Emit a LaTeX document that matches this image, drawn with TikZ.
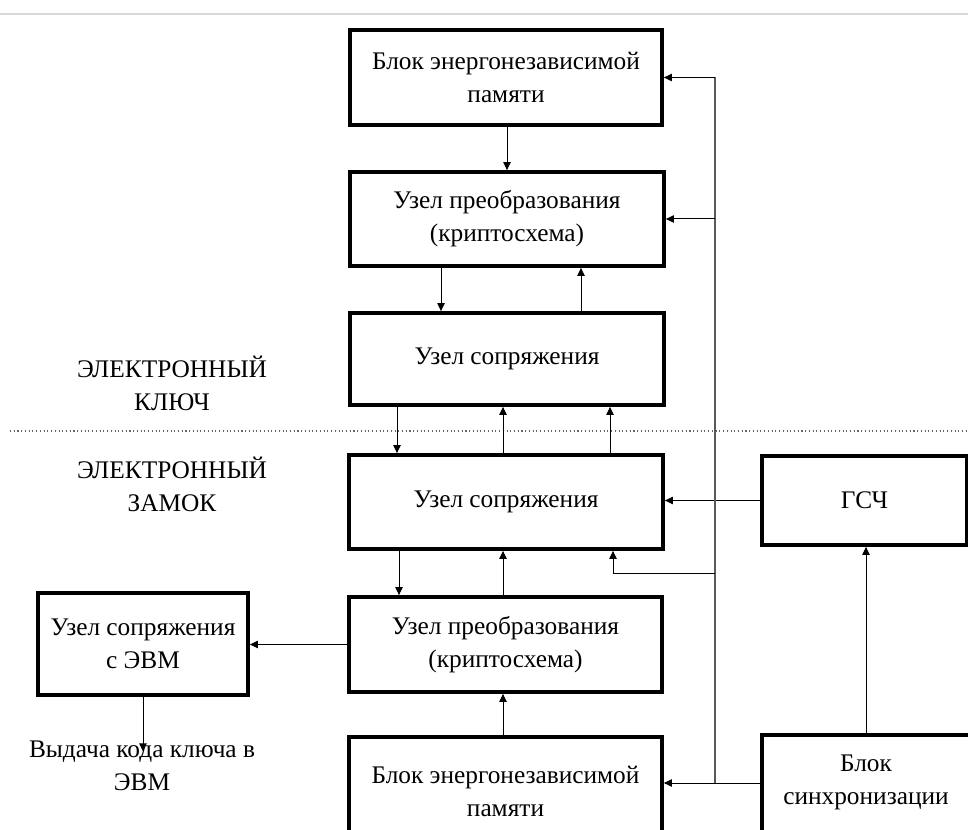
\documentclass[tikz,border=0pt]{standalone}
\usepackage{fontspec}
\setmainfont{Liberation Serif}
\usetikzlibrary{arrows.meta}

\begin{document}
\begin{tikzpicture}[x=0.75pt,y=-0.75pt,
  every node/.style={font=\fontsize{19}{24.75}\selectfont, align=center},
  blk/.style={draw, line width=2.8pt, inner sep=0pt},
  arr/.style={-{Triangle[length=6pt,width=5.5pt]}, line width=0.75pt},
  bus/.style={line width=0.9pt, draw=black!65}]
  \useasboundingbox (0,0) rectangle (968,830);
  % page edge and key / lock split
  \draw[black!15, line width=1.5pt] (0,14) -- (968,14);
  \draw[black!60, dotted, line width=0.8pt] (10,431) -- (968,431);
  % key side
  \node[blk, minimum width=234pt, minimum height=71.25pt] (memTop) at (506,77.5) {Блок энергонезависимой\\памяти};
  \node[blk, minimum width=235.5pt, minimum height=70.5pt] (convTop) at (507,219) {Узел преобразования\\(криптосхема)};
  \node[blk, minimum width=235.5pt, minimum height=69pt] (ifKey) at (507,359) {Узел сопряжения};
  \node (keyLbl) at (172,383) {ЭЛЕКТРОННЫЙ\\КЛЮЧ};
  % lock side
  \node (lockLbl) at (172,484) {ЭЛЕКТРОННЫЙ\\ЗАМОК};
  \node[blk, minimum width=235.5pt, minimum height=70.5pt] (ifLock) at (506,502) {Узел сопряжения};
  \node[blk, minimum width=234.75pt, minimum height=71.25pt] (convLock) at (505.5,644.5) {Узел преобразования\\(криптосхема)};
  \node[blk, minimum width=234.75pt, minimum height=81pt] (memLock) at (505.5,791) {Блок энергонезависимой\\памяти};
  \node[blk, minimum width=153.75pt, minimum height=66.75pt] (gsch) at (864.5,500.5) {ГСЧ};
  \node[blk, minimum width=156pt, minimum height=82.5pt, text depth=15pt] (sync) at (866,790) {Блок\\синхронизации};
  \node[blk, minimum width=157.5pt, minimum height=76.5pt] (ifPC) at (143,644) {Узел сопряжения\\с ЭВМ};
  \node[inner sep=0pt] (outTxt) at (142,766) {Выдача кода ключа в\\ЭВМ};
  % x positions of the vertical links
  \coordinate (xa) at (441,0);
  \coordinate (xb) at (581,0);
  \coordinate (xc) at (397,0);
  \coordinate (xd) at (503,0);
  \coordinate (xe) at (610,0);
  \coordinate (xf) at (399,0);
  \coordinate (xg) at (613,0);
  % links between blocks
  \draw[arr] (memTop.south -| convTop.north) -- (convTop.north);
  \draw[arr] (convTop.south -| xa) -- (ifKey.north -| xa);
  \draw[arr] (ifKey.north -| xb) -- (convTop.south -| xb);
  \draw[arr] (ifKey.south -| xc) -- (ifLock.north -| xc);
  \draw[arr] (ifLock.north -| xd) -- (ifKey.south -| xd);
  \draw[arr] (ifLock.north -| xe) -- (ifKey.south -| xe);
  \draw[arr] (ifLock.south -| xf) -- (convLock.north -| xf);
  \draw[arr] (convLock.north -| xd) -- (ifLock.south -| xd);
  \draw[arr] (memLock.north -| xd) -- (convLock.south -| xd);
  \draw[arr] (convLock.west) -- (convLock.west -| ifPC.east);
  \draw[arr] (ifPC.south) -- ([yshift=-8pt]outTxt.north -| ifPC.south);
  \draw[arr] (gsch.west) -- (gsch.west -| ifLock.east);
  \draw[arr] (sync.north) -- (sync.north |- gsch.south);
  % sync bus
  \coordinate (busTop) at (715,77.5);
  \coordinate (busBr) at (715,573);
  \coordinate (busBot) at (715,783);
  \draw[bus] (busBot) -- (busTop);
  \draw[arr] (busTop) -- (memTop.east);
  \draw[arr] (busTop |- convTop.east) -- (convTop.east);
  \draw[arr] (busBr) -| (ifLock.south -| xg);
  \draw[arr] (sync.west |- busBot) -- (memLock.east |- busBot);
\end{tikzpicture}
\end{document}
